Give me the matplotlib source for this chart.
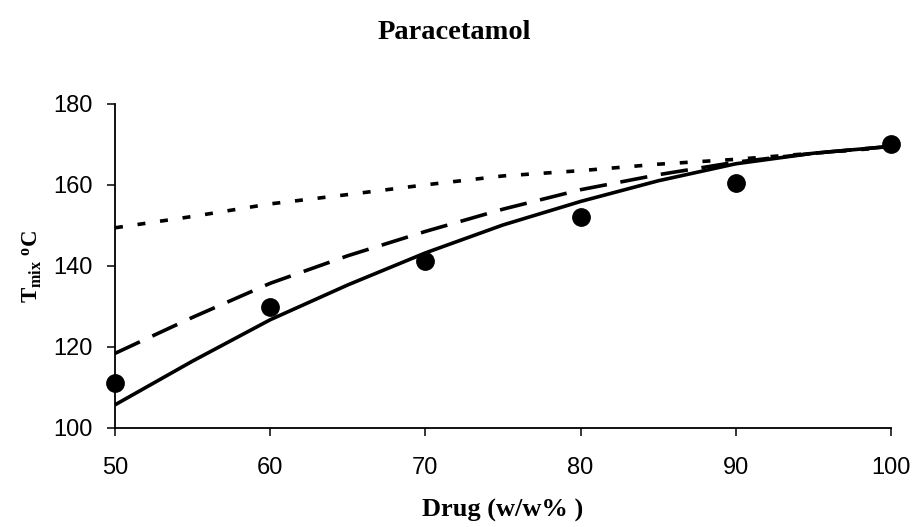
import matplotlib
matplotlib.use("Agg")
import matplotlib.pyplot as plt

# measured melting temperatures of the mixtures
drug_pct = [50, 60, 70, 80, 90, 100]
t_measured = [111.0, 129.8, 141.1, 152.0, 160.5, 170.0]

# model curves, evaluated every 5 %
drug_model = [50, 55, 60, 65, 70, 75, 80, 85, 90, 95, 100]
t_solid = [105.7, 116.5, 126.7, 135.3, 143.2, 150.1, 155.9, 161.0, 165.2, 167.8, 169.5]
t_dashed = [118.4, 127.3, 135.7, 142.5, 148.5, 154.0, 158.8, 162.5, 165.6, 167.8, 169.5]
t_dotted = [149.4, 152.2, 155.3, 157.6, 160.0, 162.2, 163.5, 165.1, 166.3, 167.8, 169.3]

x_ticks = [50, 60, 70, 80, 90, 100]
y_ticks = [100, 120, 140, 160, 180]

plt.rcParams["font.family"] = ["Liberation Sans", "DejaVu Sans"]
plt.rcParams["mathtext.fontset"] = "custom"
plt.rcParams["mathtext.rm"] = "Liberation Serif"
plt.rcParams["mathtext.it"] = "Liberation Serif:italic"
plt.rcParams["mathtext.bf"] = "Liberation Serif:bold"

fig = plt.figure(figsize=(9.2, 5.27), dpi=100)
ax = fig.add_axes([0.125, 0.188, 0.8435, 0.615])

lw = 2.6
ax.plot(drug_model, t_solid, color="black", lw=lw, solid_capstyle="butt", clip_on=False)
ax.plot(drug_model, t_dashed, color="black", lw=lw, dashes=(7.6, 3.8), clip_on=False)
ax.plot(drug_model, t_dotted, color="black", lw=lw, dashes=(2.2, 4.1), clip_on=False)
ax.plot(drug_pct, t_measured, "o", color="black", ms=12.5, clip_on=False, zorder=5)

ax.set_xlim(50, 100)
ax.set_ylim(100, 180)
ax.set_xticks(x_ticks)
ax.set_yticks(y_ticks)

for side in ("top", "right"):
    ax.spines[side].set_visible(False)
for side in ("left", "bottom"):
    ax.spines[side].set_linewidth(1.3)

ax.tick_params(axis="y", direction="out", length=6, width=1.1, pad=10, labelsize=17)
ax.tick_params(axis="x", direction="out", length=6, width=1.1, pad=15, labelsize=17)

serif_bold = dict(family="Liberation Serif", weight="bold")
fig.text(0.494, 0.938, "Paracetamol", ha="center", va="center", fontsize=20.5, **serif_bold)
fig.text(0.546, 0.032, "Drug (w/w% )", ha="center", va="center", fontsize=19, **serif_bold)
fig.text(0.035, 0.495, r"$\mathbf{T_{mix}\ ^{o}C}$", ha="center", va="center",
         rotation=90, fontsize=16.5)

fig.savefig("out.png", dpi=100)
